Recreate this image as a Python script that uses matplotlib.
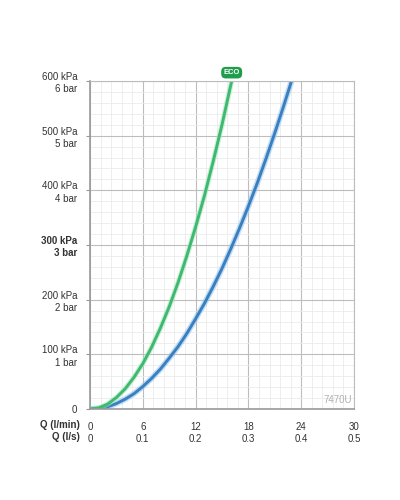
import matplotlib.pyplot as plt
import numpy as np

plt.rcParams['font.family'] = ['Liberation Sans', 'DejaVu Sans']
plt.rcParams['text.color'] = '#333333'
plt.rcParams['xtick.labelcolor'] = '#333333'
plt.rcParams['ytick.labelcolor'] = '#333333'

# flow (l/min) vs pressure (kPa)
q_eco = [0, 1, 2, 3, 4, 5, 6, 7, 8, 9, 10, 11, 12, 13, 14, 15, 16.1]
p_eco = [0, 2, 9, 21, 37, 58, 83, 113, 148, 187, 231, 280, 333, 390, 453, 520, 600]

q_std = [0, 1, 2, 3, 4, 5, 6, 7, 8, 9, 10, 11, 12, 13, 14, 15, 16, 17, 18, 19, 20, 21, 22, 22.9]
p_std = [0, 1, 4, 10, 18, 28, 41, 56, 73, 93, 114, 138, 165, 193, 224, 257, 293, 331,
         371, 413, 458, 505, 554, 600]

lmin_ticks = [0, 6, 12, 18, 24, 30]
ls_labels = ['0', '0.1', '0.2', '0.3', '0.4', '0.5']
kpa_ticks = [0, 100, 200, 300, 400, 500, 600]
kpa_labels = ['0', '100 kPa\n1 bar', '200 kPa\n2 bar', '300 kPa\n3 bar',
              '400 kPa\n4 bar', '500 kPa\n5 bar', '600 kPa\n6 bar']

green = '#3dba6f'
blue = '#3a7fc0'

fig = plt.figure(figsize=(4, 5), dpi=100)
ax = fig.add_axes([0.225, 0.182, 0.66, 0.656])
ax.set_xlim(0, 30)
ax.set_ylim(0, 600)

ax.set_xticks(np.arange(0, 30.01, 1.2), minor=True)
ax.set_yticks(np.arange(0, 600.1, 20), minor=True)
ax.tick_params(which='minor', length=0)
ax.grid(which='minor', color='#ebebeb', lw=0.6)
ax.grid(which='major', color='#bdbdbd', lw=0.8)
ax.set_axisbelow(True)

for s in ax.spines.values():
    s.set_color('#bdbdbd')
    s.set_linewidth(0.8)
ax.spines['left'].set_color('#999999')
ax.spines['left'].set_linewidth(1.2)
ax.spines['bottom'].set_color('#999999')
ax.spines['bottom'].set_linewidth(1.2)

# soft halo under the curves
ax.plot(q_std, p_std, color='#8fc3ee', lw=4.2, alpha=0.55, solid_capstyle='butt')
ax.plot(q_std, p_std, color=blue, lw=2.1, solid_capstyle='butt', solid_joinstyle='round')
ax.plot(q_eco, p_eco, color='#a6e3bd', lw=3.8, alpha=0.55, solid_capstyle='butt')
ax.plot(q_eco, p_eco, color=green, lw=2.1, solid_capstyle='butt', solid_joinstyle='round')

ax.annotate('ECO', xy=(q_eco[-1], p_eco[-1]), xytext=(0, 6), textcoords='offset points',
            ha='center', va='center', fontsize=5.5, fontweight='bold', color='white',
            bbox=dict(boxstyle='round,pad=0.3,rounding_size=0.6', fc='#1e9e4c', ec='none'),
            annotation_clip=False)

ax.text(29.8, 8, '7470U', ha='right', va='bottom', fontsize=7, color='#b0b0b0')

ax.set_yticks(kpa_ticks)
ax.set_yticklabels(kpa_labels, fontsize=7, ha='right', linespacing=1.3)
ax.get_yticklabels()[3].set_fontweight('bold')
ax.tick_params(axis='y', which='major', length=3, color='#999999', pad=6)

ax.set_xticks(lmin_ticks)
ax.set_xticklabels([f'{a}\n{b}' for a, b in zip(lmin_ticks, ls_labels)], fontsize=7, linespacing=1.3)
ax.tick_params(axis='x', which='major', length=0, pad=9)

fig.text(0.2, 0.149, 'Q (l/min)', ha='right', va='center', fontsize=7, fontweight='bold')
fig.text(0.2, 0.125, 'Q (l/s)', ha='right', va='center', fontsize=7, fontweight='bold')

fig.savefig('out.png', dpi=100)
